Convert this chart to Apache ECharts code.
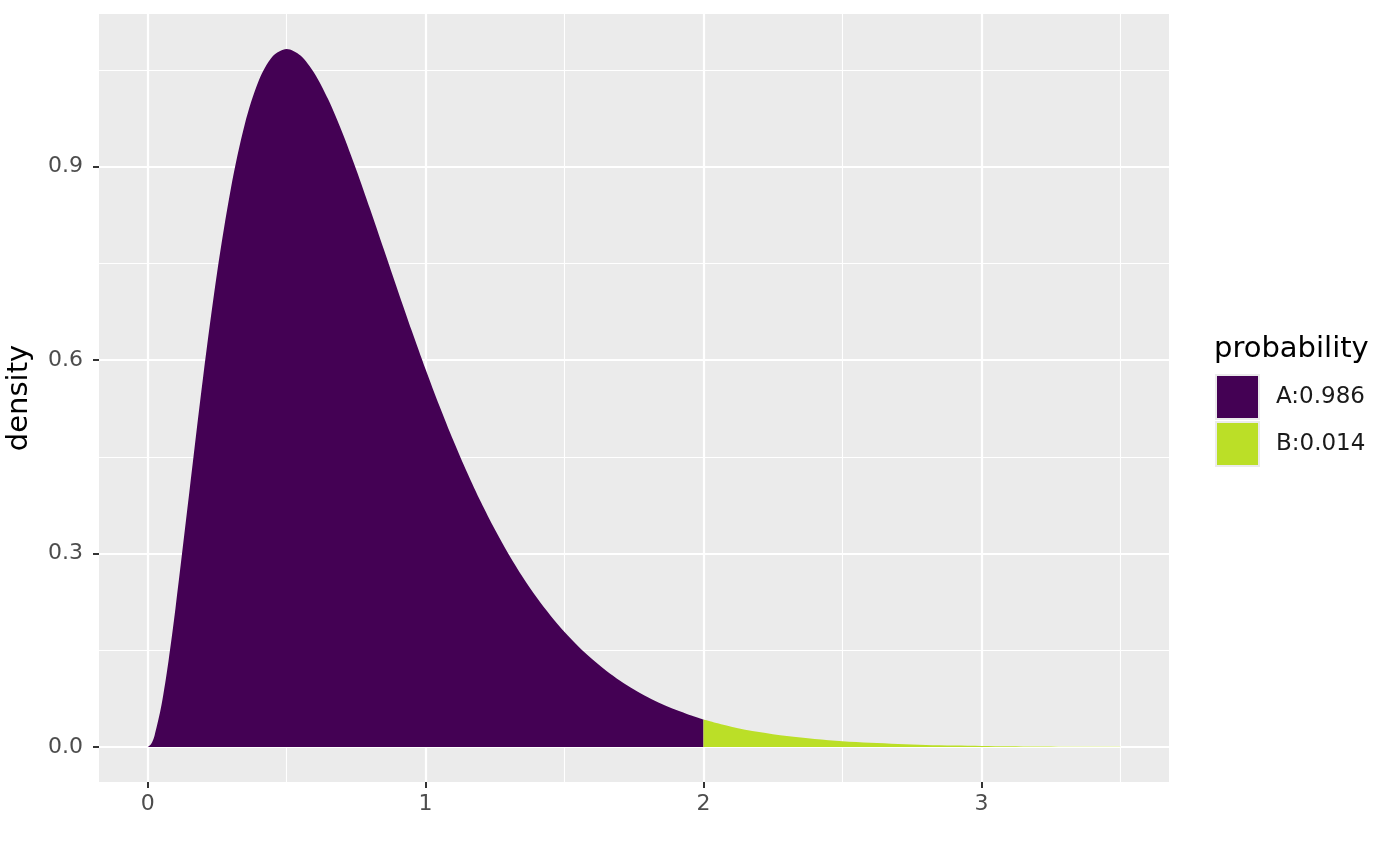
<!DOCTYPE html>
<html>
<head>
    <meta charset="utf-8">
    <title>density</title>
    <script src="https://cdn.jsdelivr.net/npm/echarts@6/dist/echarts.min.js"></script>
    <style>
        *{ margin: 0; padding: 0; }
        html,body{ width: 100%; height: 100%; overflow: hidden; background: #fff; }
        #main{ width: 1400px; height: 866px; }
    </style>
</head>
<body>
<div id="main"></div>
<script>
    // density, part A (x <= 2) and part B (x >= 2)
    const xA = [0, 0.0125, 0.025, 0.05, 0.075, 0.1, 0.15, 0.2, 0.25, 0.3, 0.35, 0.4, 0.45, 0.5, 0.55, 0.6, 0.65, 0.7, 0.75, 0.8, 0.85, 0.9, 0.95,
        1.0, 1.05, 1.1, 1.15, 1.2, 1.25, 1.3, 1.35, 1.4, 1.45, 1.5, 1.55, 1.6, 1.65, 1.7, 1.75, 1.8, 1.85, 1.9, 1.95, 2.0];
    const yA = [0, 0.0048, 0.0181, 0.0655, 0.1333, 0.2145, 0.3951, 0.5751, 0.7358, 0.8675, 0.9667, 1.0337, 1.0712, 1.0827, 1.0726, 1.0450, 1.0041, 0.9535, 0.8962, 0.8348, 0.7716, 0.7082, 0.6460,
        0.5861, 0.5291, 0.4754, 0.4254, 0.3792, 0.3369, 0.2983, 0.2634, 0.2319, 0.2037, 0.1785, 0.1560, 0.1361, 0.1185, 0.1030, 0.0894, 0.0774, 0.0669, 0.0578, 0.0499, 0.0429];
    const xB = [2.0, 2.1, 2.2, 2.3, 2.4, 2.5, 2.6, 2.7, 2.8, 2.9, 3.0, 3.1, 3.2, 3.3, 3.4, 3.5];
    const yB = [0.0429, 0.0317, 0.0233, 0.0171, 0.0125, 0.0091, 0.0066, 0.0048, 0.0034, 0.0025, 0.0018, 0.0013, 0.0009, 0.0006, 0.0004, 0.0003];

    const groups = ['A:0.986', 'B:0.014'];
    const xTicks = [0, 1, 2, 3];
    const yTicks = [0, 0.3, 0.6, 0.9];
    const xMinor = [0.5, 1.5, 2.5, 3.5];
    const yMinor = [0.15, 0.45, 0.75, 1.05];

    const colors = ['#440154', '#BBDF27'];
    const font = 'DejaVu Sans';

    let myChart = echarts.init(document.getElementById('main'));

    function zip(xs, ys) {
        return xs.map((x, i) => [x, ys[i]]);
    }

    let gridLines = [];
    xMinor.forEach(v => gridLines.push({xAxis: v}));
    yMinor.forEach(v => gridLines.push({yAxis: v}));

    function areaSeries(i, xs, ys) {
        return {
            name: groups[i],
            type: 'line',
            z: 3,
            data: zip(xs, ys),
            showSymbol: false,
            symbol: 'none',
            smooth: 0.3,
            lineStyle: {width: 0, color: colors[i]},
            itemStyle: {color: colors[i]},
            areaStyle: {color: colors[i], opacity: 1}
        };
    }

    let option = {
        animation: false,
        textStyle: {fontFamily: font},
        title: {
            text: 'probability',
            left: 1214,
            top: 335,
            padding: 0,
            textStyle: {fontFamily: font, fontSize: 29, fontWeight: 'normal', color: '#000'}
        },
        legend: {
            data: groups,
            orient: 'vertical',
            left: 1215,
            top: 374,
            icon: 'rect',
            itemWidth: 43,
            itemHeight: 44,
            itemGap: 1,
            padding: 0,
            selectedMode: false,
            itemStyle: {borderColor: '#EBEBEB', borderWidth: 2},
            textStyle: {fontFamily: font, fontSize: 23, color: '#1a1a1a', padding: [0, 0, 0, 12]}
        },
        grid: {
            left: 99,
            right: 231,
            top: 14,
            bottom: 84,
            show: true,
            backgroundColor: '#EBEBEB',
            borderWidth: 0,
            containLabel: false,
            outerBoundsMode: 'none'
        },
        xAxis: {
            type: 'value',
            min: -0.175,
            max: 3.675,
            axisLine: {show: false, onZero: false},
            axisTick: {show: true, length: 6, customValues: xTicks, lineStyle: {color: '#333', width: 2}},
            axisLabel: {customValues: xTicks, color: '#4D4D4D', fontSize: 22, margin: 11, fontFamily: font},
            splitLine: {show: true, lineStyle: {color: '#fff', width: 2.2}},
            minorSplitLine: {show: false}
        },
        yAxis: {
            type: 'value',
            min: -0.0541,
            max: 1.1368,
            name: 'density',
            nameLocation: 'middle',
            nameRotate: 90,
            nameGap: 65,
            nameTextStyle: {fontFamily: font, fontSize: 29, color: '#000'},
            axisLine: {show: false, onZero: false},
            axisTick: {show: true, length: 6, customValues: yTicks, lineStyle: {color: '#333', width: 2}},
            axisLabel: {
                customValues: yTicks, color: '#4D4D4D', fontSize: 22, margin: 16, fontFamily: font,
                formatter: v => v.toFixed(1)
            },
            splitLine: {show: true, lineStyle: {color: '#fff', width: 2.2}}
        },
        series: [
            {
                name: 'minor',
                type: 'line',
                data: [],
                z: 1,
                silent: true,
                markLine: {
                    z: 1,
                    silent: true,
                    symbol: 'none',
                    label: {show: false},
                    lineStyle: {color: '#fff', width: 1.1, type: 'solid'},
                    data: gridLines
                }
            },
            areaSeries(0, xA, yA),
            areaSeries(1, xB, yB)
        ]
    };
    myChart.setOption(option);
</script>
</body>
</html>
